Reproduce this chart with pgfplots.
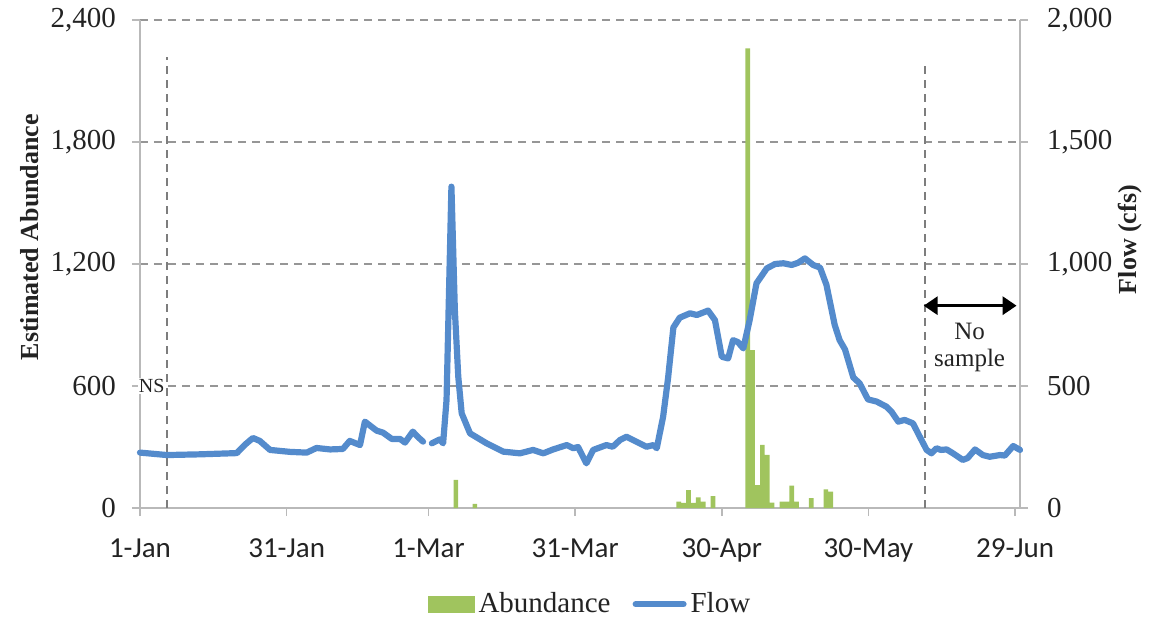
\documentclass[border=0pt]{standalone}
\usepackage{pgfplots}
\pgfplotsset{compat=1.18}
\usepackage{fontspec}
\setmainfont{Liberation Serif}
\newfontfamily\xfont{Carlito}
\usetikzlibrary{arrows.meta}
\definecolor{flowblue}{RGB}{84,139,204}
\definecolor{abgreen}{RGB}{160,196,94}
\definecolor{gridgray}{RGB}{150,150,150}
\definecolor{vgray}{RGB}{125,125,125}
\definecolor{axgray}{RGB}{185,185,185}
\definecolor{txt}{RGB}{35,35,35}

\begin{document}
\begin{tikzpicture}
\useasboundingbox (-70pt,-59pt) rectangle (505pt,254pt);
\begin{axis}[
  at={(0,0)}, anchor=south west, scale only axis,
  width=440pt, height=244pt,
  xmin=0, xmax=180, ymin=0, ymax=2400,
  axis x line*=bottom, axis y line*=left,
  axis line style={axgray, line width=0.8pt},
  tick style={axgray, line width=0.8pt},
  tick align=outside, major tick length=4pt,
  xtick={0,30,59,89,119,149,179},
  xticklabels={1-Jan,31-Jan,1-Mar,31-Mar,30-Apr,30-May,29-Jun},
  xticklabel style={font=\xfont\fontsize{14.5}{16}\selectfont, text=txt, yshift=-8pt},
  ytick={0,600,1200,1800,2400},
  yticklabels={0,600,{1,200},{1,800},{2,400}},
  yticklabel style={font=\fontsize{14.5}{16}\selectfont, text=txt, xshift=-4.5pt},
  ymajorgrids,
  grid style={gridgray, dash pattern=on 4pt off 3pt, line width=0.7pt},
  ylabel={Estimated Abundance},
  ylabel style={font=\bfseries\fontsize{13}{15}\selectfont, text=txt, at={(axis description cs:-0.125,0.555)}, anchor=center},
  clip=false,
]
\addplot[ybar, bar width=0.95, bar shift=0pt, fill=abgreen, draw=none] coordinates {
(64.6,138) (68.5,20)
(110.2,31) (111.2,25) (112.2,88) (113.2,25) (114.2,52) (115.2,31) (117.2,59)
(124.3,2260) (125.3,777) (126.3,113) (127.3,310) (128.3,261) (129.3,26)
(131.3,31) (132.3,31) (133.3,110) (134.3,31)
(137.3,48) (140.3,92) (141.3,80)
};
\addplot[vgray, dash pattern=on 4pt off 3pt, line width=1pt] coordinates {(5.5,0) (5.5,2218)};
\addplot[vgray, dash pattern=on 4pt off 3pt, line width=1pt] coordinates {(160.5,0) (160.5,2179)};
\addplot[black, line width=1.6pt, {Triangle[length=7pt,width=9pt]}-{Triangle[length=7pt,width=9pt]}] coordinates {(160.3,995) (179.3,995)};
\node[font=\fontsize{10}{11}\selectfont, text=txt, fill=white, inner sep=0.5pt] at (axis cs:2.4,600) {NS};
\node[font=\fontsize{12.5}{13.5}\selectfont, text=txt, align=center] at (axis cs:169.7,790) {No\\sample};
\end{axis}
\begin{axis}[
  at={(0,0)}, anchor=south west, scale only axis,
  width=440pt, height=244pt,
  xmin=0, xmax=180, ymin=0, ymax=2000,
  axis x line=none, axis y line*=right,
  axis line style={axgray, line width=0.8pt},
  tick style={axgray, line width=0.8pt},
  tick align=outside, major tick length=4pt,
  ytick={0,500,1000,1500,2000},
  yticklabels={0,500,{1,000},{1,500},{2,000}},
  yticklabel style={font=\fontsize{14.5}{16}\selectfont, text=txt, xshift=6pt},
  ylabel={Flow (cfs)},
  ylabel style={font=\bfseries\fontsize{13}{15}\selectfont, text=txt, at={(axis description cs:1.125,0.55)}, anchor=center},
  unbounded coords=jump,
  legend style={at={(axis description cs:0.5125,-0.197)}, anchor=center, draw=none, fill=none,
     legend columns=2, font=\fontsize{14.5}{16}\selectfont, text=txt,
     /tikz/every even column/.append style={column sep=9pt}},
  clip=false,
]
\addlegendimage{legend image code/.code={\fill[abgreen] (0pt,-4pt) rectangle (23pt,4pt);}}
\addlegendentry{Abundance}
\addplot[flowblue, line width=3.1pt, line join=round, line cap=round,
  legend image code/.code={\draw[flowblue, line width=3pt, line cap=round] (0pt,0pt) -- (24pt,0pt);}] coordinates {
(0,227) (5.5,217) (12.3,220) (19.8,225) (21.5,260) (23.1,287) (24.5,275) (26.6,238)
(30.7,230) (34.1,227) (36.1,246) (38.9,240) (41.5,242) (42.9,275) (45.0,258) (46.0,354)
(48.4,317) (49.7,309) (51.5,283) (53.2,283) (54.2,268) (55.8,313) (56.9,290) (57.9,272)
(58.8,nan)
(59.7,265) (61.3,281) (62.0,265) (62.7,443) (63.7,1317) (64.4,811) (65.1,538) (65.8,388)
(67.5,306) (70.9,265) (74.3,231) (77.7,224) (80.4,238) (82.5,224) (84.5,240) (87.3,258)
(88.6,245) (89.6,250) (91.3,183) (92.7,238) (95.4,258) (96.7,251) (98.2,279) (99.5,292)
(102.2,265) (103.6,251) (105.0,258) (105.7,245) (107.0,374) (108.0,530) (109.1,740)
(110.4,780) (112.5,798) (113.9,791) (116.2,809) (117.6,770) (119.0,620) (120.3,613)
(121.3,688) (122.3,680) (123.4,654) (124.7,770) (126.1,921) (128.2,982) (129.9,1000)
(131.6,1003) (133.3,996) (134.6,1005) (136.0,1023) (137.7,996) (139.1,985) (140.4,915)
(142.1,750) (143.1,688) (144.2,650) (145.9,535) (147.2,511) (148.9,445) (150.7,436)
(152.7,415) (153.7,395) (155.1,354) (156.4,361) (158.1,347) (159.5,292) (160.9,238)
(161.9,224) (162.9,245) (163.8,238) (165.0,240) (166.3,224) (168.3,197) (169.3,205)
(170.8,240) (172.4,217) (173.8,210) (175.9,217) (176.9,215) (178.6,254) (180,238)
};
\addlegendentry{Flow}
\end{axis}
\end{tikzpicture}
\end{document}
